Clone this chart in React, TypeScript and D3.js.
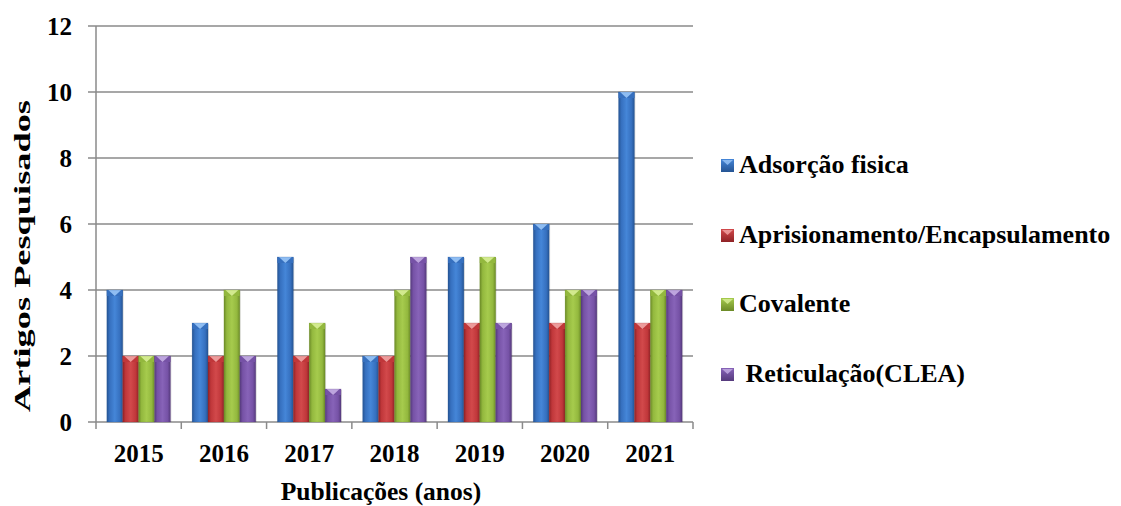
import React from "react";
import * as d3 from "d3";

const years = ["2015", "2016", "2017", "2018", "2019", "2020", "2021"];
const seriesNames = [
  "Adsorção fisica",
  "Aprisionamento/Encapsulamento",
  "Covalente",
  " Reticulação(CLEA)",
];
const adsorcao = [4, 3, 5, 2, 5, 6, 10];
const aprisionamento = [2, 2, 2, 2, 3, 3, 3];
const covalente = [2, 4, 3, 4, 5, 4, 4];
const reticulacao = [2, 2, 1, 5, 3, 4, 4];
const yTicks = [0, 2, 4, 6, 8, 10, 12];

const seriesValues = [adsorcao, aprisionamento, covalente, reticulacao];

// base, dark edge, light centre, bevel highlight
const palette = [
  { base: "#3670bf", dark: "#255493", light: "#4586d8", bevel: "#8fbdf2" },
  { base: "#c0373a", dark: "#8f2226", light: "#d2494b", bevel: "#ec9b9b" },
  { base: "#93b83e", dark: "#6b8a27", light: "#a6cb4d", bevel: "#d2ea8e" },
  { base: "#7652a6", dark: "#553a7c", light: "#8763b8", bevel: "#bda5de" },
];

const W = 1121;
const H = 506;
const margin = { left: 96, right: 693, top: 26, bottom: 422 };
const FONT = "Liberation Serif, DejaVu Serif, Times New Roman, serif";

export default function App() {
  const x = d3
    .scaleBand<string>()
    .domain(years)
    .range([margin.left, margin.right])
    .paddingInner(0)
    .paddingOuter(0);
  const inner = d3
    .scaleBand<number>()
    .domain(d3.range(seriesNames.length))
    .range([0, x.bandwidth()])
    .paddingOuter(0.68)
    .paddingInner(0);
  const y = d3.scaleLinear().domain([0, 12]).range([margin.bottom, margin.top]);

  const boundaries = [...years.map((yr) => x(yr) as number), margin.right];
  const bw = inner.bandwidth();

  const legendY = [166, 236, 305, 375];
  const textStyle = { fontFamily: FONT, fontWeight: 700 } as const;

  return (
    <svg
      width={W}
      height={H}
      style={{ position: "absolute", left: 0, top: 0, background: "#fff" }}
    >
      <defs>
        {palette.map((p, i) => (
          <linearGradient key={i} id={`bar-grad-${i}`} x1="0" x2="1" y1="0" y2="0">
            <stop offset="0" stopColor={p.dark} />
            <stop offset="0.18" stopColor={p.base} />
            <stop offset="0.5" stopColor={p.light} />
            <stop offset="0.82" stopColor={p.base} />
            <stop offset="1" stopColor={p.dark} />
          </linearGradient>
        ))}
        {palette.map((p, i) => (
          <linearGradient key={`l${i}`} id={`leg-grad-${i}`} x1="0" x2="0" y1="0" y2="1">
            <stop offset="0" stopColor={p.light} />
            <stop offset="1" stopColor={p.dark} />
          </linearGradient>
        ))}
      </defs>

      {/* gridlines */}
      {yTicks.map((t) => (
        <line
          key={`g${t}`}
          x1={margin.left - 8}
          x2={margin.right}
          y1={y(t)}
          y2={y(t)}
          stroke="#8a8a8a"
          strokeWidth={1.5}
        />
      ))}
      {/* y axis */}
      <line x1={margin.left} x2={margin.left} y1={margin.top} y2={margin.bottom} stroke="#8a8a8a" strokeWidth={1.5} />
      {/* x category ticks */}
      {boundaries.map((bx, i) => (
        <line key={`xt${i}`} x1={bx} x2={bx} y1={margin.bottom} y2={margin.bottom + 7} stroke="#8a8a8a" strokeWidth={1.5} />
      ))}

      {/* bars */}
      {years.map((yr, ci) =>
        seriesValues.map((vals, si) => {
          const v = vals[ci];
          const bx = (x(yr) as number) + (inner(si) as number);
          const top = y(v);
          const h = y(0) - top;
          const p = palette[si];
          const bev = Math.min(6, h);
          return (
            <g key={`${yr}-${si}`}>
              <rect x={bx + 1} y={top + 1} width={bw} height={h - 1} fill="#000" opacity={0.12} />
              <rect x={bx} y={top} width={bw} height={h} fill={`url(#bar-grad-${si})`} />
              <rect x={bx} y={top} width={bw} height={bev} fill={p.base} />
              <path
                d={`M${bx + 1.5},${top} L${bx + bw - 1.5},${top} L${bx + bw / 2},${top + bev} Z`}
                fill={p.bevel}
              />
              <rect x={bx} y={top} width={bw} height={h} fill="none" stroke={p.dark} strokeOpacity={0.35} strokeWidth={0.6} />
            </g>
          );
        })
      )}

      {/* y tick labels */}
      {yTicks.map((t) => (
        <text key={`yl${t}`} x={72} y={y(t)} dy="0.35em" textAnchor="end" fontSize={25} fill="#000" style={textStyle}>
          {t}
        </text>
      ))}
      {/* x tick labels */}
      {years.map((yr) => (
        <text key={`xl${yr}`} x={(x(yr) as number) + x.bandwidth() / 2} y={462} textAnchor="middle" fontSize={25} fill="#000" style={textStyle}>
          {yr}
        </text>
      ))}

      {/* axis titles */}
      <text x={381} y={500} textAnchor="middle" fontSize={25.5} fill="#000" style={textStyle}>
        Publicações (anos)
      </text>
      <text
        transform={`translate(30,256) rotate(-90)`}
        textAnchor="middle"
        fontSize={23}
        fill="#000"
        textLength={312}
        lengthAdjust="spacingAndGlyphs"
        style={textStyle}
      >
        Artigos Pesquisados
      </text>

      {/* legend */}
      {seriesNames.map((name, i) => (
        <g key={`lg${i}`}>
          <rect x={721} y={legendY[i] - 7} width={13} height={13} fill={`url(#leg-grad-${i})`} />
          <path
            d={`M${722},${legendY[i] - 6} L${733},${legendY[i] - 6} L${727.5},${legendY[i] - 1} Z`}
            fill={palette[i].bevel}
            opacity={0.9}
          />
          <text x={739} y={legendY[i] + 7} fontSize={26} fill="#000" style={{ ...textStyle, whiteSpace: "pre" }}>
            {name}
          </text>
        </g>
      ))}
    </svg>
  );
}
